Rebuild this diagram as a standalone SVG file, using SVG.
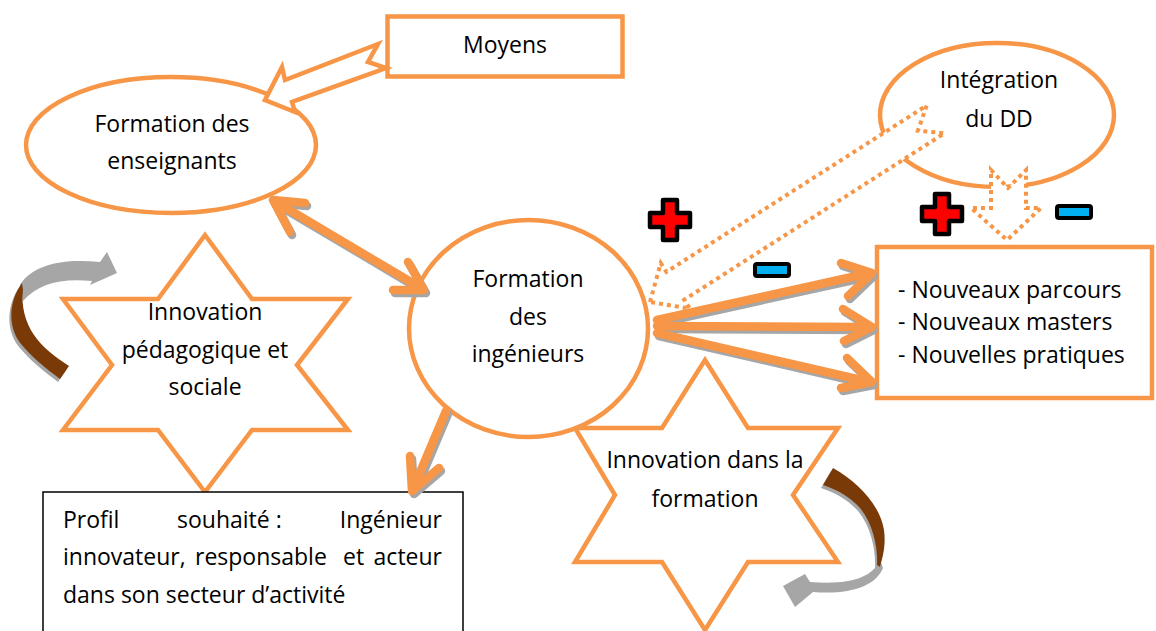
<svg xmlns="http://www.w3.org/2000/svg" width="1156" height="631" viewBox="0 0 1156 631">
<style>
.shape{fill:#fff;stroke:#F79646;stroke-width:4.5;stroke-linejoin:miter}
.t{font-family:"Open Sans","Liberation Sans",sans-serif;font-size:23px;fill:#000;text-anchor:middle}
.ts{font-family:"Open Sans","Liberation Sans",sans-serif;font-size:23px;fill:#000}
.dot{fill:#fff;stroke:#F79646;stroke-width:4;stroke-dasharray:4 4}
.thick{fill:none;stroke-width:8.5;stroke-linecap:round;stroke-linejoin:round}
.sh{stroke:#A6A6A6}
.or{stroke:#F79646}
.plus{fill:#FF0000;stroke:#000;stroke-width:4.5;stroke-linejoin:round}
.minus{fill:#00B0F0;stroke:#000;stroke-width:4;stroke-linejoin:round}
</style>
<defs>
<path id="a1" d="M276,202 L421,288 M305,203 L273,200 L290,232 M408,262 L424,290 L393,290"/>
<path id="a2" d="M446,411 L413,489 M410,456 L412,491 L439,468"/>
<path id="a3" d="M657,320 L870,273 M841,263 L872,273 L848,296"/>
<path id="a4" d="M657,326 L870,327 M843,309 L872,327 L844,341"/>
<path id="a5" d="M657,333 L870,382 M847,358 L872,382 L841,388"/>
<path id="plusShape" d="M-7,-20 H7 V-7 H20 V7 H7 V20 H-7 V7 H-20 V-7 H-7 Z"/>
</defs>

<g id="node-innovation-pedagogique">
<polygon class="shape" points="205,235 252,299 348,299 297,365 348,430 252,430 205,492 158,430 63,430 112,365 63,299 158,299"/>
<text class="t" x="205" y="320">Innovation</text>
<text class="t" x="205" y="358">pédagogique et</text>
<text class="t" x="205" y="395">sociale</text>
</g>

<g id="node-innovation-formation">
<polygon class="shape" points="705,360 748,428 838,428 793,495 838,562 748,562 705,630 662,562 575,562 615,495 575,428 662,428"/>
<text class="t" x="705" y="468">Innovation dans la</text>
<text class="t" x="705" y="507">formation</text>
</g>

<g id="node-formation-enseignants">
<ellipse class="shape" cx="171" cy="145" rx="145" ry="68"/>
<text class="t" x="172" y="132">Formation des</text>
<text class="t" x="172" y="169">enseignants</text>
</g>

<g id="node-moyens">
<rect class="shape" x="387.5" y="16.5" width="235" height="60"/>
<text class="t" x="505" y="53">Moyens</text>
</g>

<g id="node-integration-dd">
<ellipse class="shape" cx="997" cy="115" rx="117" ry="72"/>
<text class="t" x="999" y="88">Intégration</text>
<text class="t" x="999" y="127">du DD</text>
</g>

<g id="node-formation-ingenieurs">
<ellipse class="shape" cx="528.5" cy="328.5" rx="119.5" ry="108.5"/>
<text class="t" x="528" y="287">Formation</text>
<text class="t" x="528" y="325">des</text>
<text class="t" x="528" y="362">ingénieurs</text>
</g>

<g id="node-nouveaux">
<rect class="shape" x="877" y="247" width="275" height="151"/>
<text class="ts" x="898" y="298">- Nouveaux parcours</text>
<text class="ts" x="898" y="330">- Nouveaux masters</text>
<text class="ts" x="898" y="363">- Nouvelles pratiques</text>
</g>

<g id="node-profil">
<rect x="43" y="492" width="420" height="150" fill="#fff" stroke="#000" stroke-width="1.5"/>
<text class="ts" x="63" y="528">Profil</text>
<text class="ts" x="177" y="528">souhaité :</text>
<text class="ts" x="442" y="528" text-anchor="end">Ingénieur</text>
<text class="ts" x="63" y="565">innovateur,</text>
<text class="ts" x="195" y="565">responsable</text>
<text class="ts" x="343" y="565">et</text>
<text class="ts" x="442" y="565" text-anchor="end">acteur</text>
<text class="ts" x="63" y="603">dans son secteur d’activité</text>
</g>

<g id="connectors">
<polygon class="shape" stroke-width="4" points="265,100 282,67 285,80 378,44 368,62 386,68 292,102 295,112"/>
<path class="dot" transform="translate(650,302) rotate(-32.6)" d="M0,0 L30,-27 L30,-16.5 L339,-16.5 L318,0 L339,16.5 L30,16.5 L30,27 Z"/>
<path class="dot" d="M991,170 L1008,188 L1026,170 L1026,208 L1041,208 L1007,240 L971,208 L991,208 Z"/>
<g class="thick sh" transform="translate(2,3)">
<use href="#a1"/><use href="#a2"/><use href="#a3"/><use href="#a4"/><use href="#a5"/>
</g>
<g class="thick or">
<use href="#a1"/><use href="#a2"/><use href="#a3"/><use href="#a4"/><use href="#a5"/>
</g>
<g id="cycle-left">
<path fill="#A6A6A6" d="M20,285 C32,265 62,258 100,262 L107,252 L117,273 L90,285 L92,281 C60,278 38,284 23,301 Z"/>
<path fill="#A6A6A6" transform="translate(-2,3)" d="M22,283 C9,301 7,326 21,344 C32,357 45,368 60,379 L69,366 C54,356 42,347 34,335 C25,322 21,305 23,290 Z"/>
<path fill="#7A3A08" d="M22,283 C9,301 7,326 21,344 C32,357 45,368 60,379 L69,366 C54,356 42,347 34,335 C25,322 21,305 23,290 Z"/>
</g>
<g id="cycle-right">
<path fill="#A6A6A6" d="M880,560 C872,578 850,585 810,582 L805,574 L783,586 L795,607 L813,592 C850,595 876,586 883,568 Z"/>
<path fill="#A6A6A6" transform="translate(-2,3)" d="M823,485 L833,468 C858,482 880,505 884,530 C886,545 883,556 880,567 L877,565 C878,550 874,525 860,508 C850,497 838,490 823,485 Z"/>
<path fill="#7A3A08" d="M823,485 L833,468 C858,482 880,505 884,530 C886,545 883,556 880,567 L877,565 C878,550 874,525 860,508 C850,497 838,490 823,485 Z"/>
</g>
</g>

<g id="signs">
<use href="#plusShape" class="plus" transform="translate(670,220)"/>
<use href="#plusShape" class="plus" transform="translate(942,214)"/>
<rect class="minus" x="1057" y="206" width="34" height="12" rx="2"/>
<rect class="minus" x="755" y="264" width="34" height="12" rx="2"/>
</g>
</svg>
